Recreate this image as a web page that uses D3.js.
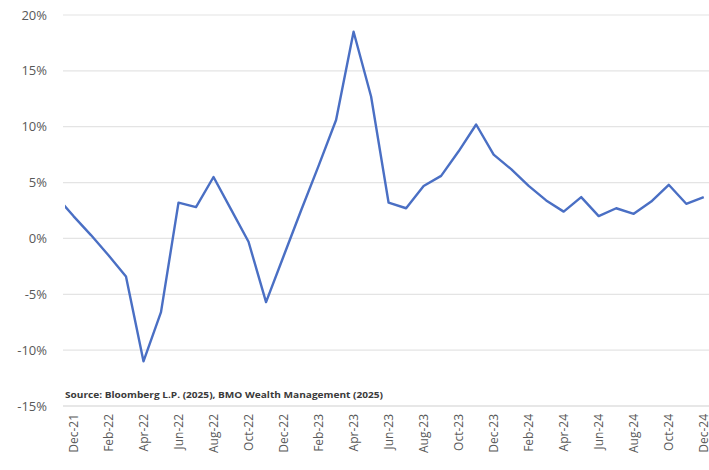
<!DOCTYPE html>
<html>
<head>
<meta charset="utf-8">
<script src="https://cdn.jsdelivr.net/npm/d3@7"></script>
<style>
body{margin:0;background:#fff;}
</style>
</head>
<body>
<script>
// monthly values, Nov-21 .. Dec-24 (Nov-21 only shows as the clipped start of the line)
var months=["Nov-21","Dec-21","Jan-22","Feb-22","Mar-22","Apr-22","May-22","Jun-22","Jul-22","Aug-22","Sep-22","Oct-22","Nov-22","Dec-22",
  "Jan-23","Feb-23","Mar-23","Apr-23","May-23","Jun-23","Jul-23","Aug-23","Sep-23","Oct-23","Nov-23","Dec-23",
  "Jan-24","Feb-24","Mar-24","Apr-24","May-24","Jun-24","Jul-24","Aug-24","Sep-24","Oct-24","Nov-24","Dec-24"];
var values=[3.8,2.0,0.3,-1.5,-3.4,-11.0,-6.6,3.2,2.8,5.5,2.6,-0.3,-5.7,-1.6,
  2.5,6.5,10.6,18.5,12.7,3.2,2.7,4.7,5.6,7.8,10.2,7.5,
  6.2,4.7,3.4,2.4,3.7,2.0,2.7,2.2,3.3,4.8,3.1,3.7];
var yTicks=[-15,-10,-5,0,5,10,15,20];
var xLabels=["Dec-21","Feb-22","Apr-22","Jun-22","Aug-22","Oct-22","Dec-22","Feb-23","Apr-23","Jun-23","Aug-23","Oct-23",
  "Dec-23","Feb-24","Apr-24","Jun-24","Aug-24","Oct-24","Dec-24"];
var source="Source: Bloomberg L.P. (2025), BMO Wealth Management (2025)";

var w=709,h=470;
var mLeft=64,mRight=709,mTop=15,mBottom=406;
var svg=d3.select('body').append('svg').attr('width',w).attr('height',h);

var x=d3.scaleLinear().domain([0.46,37.3]).range([mLeft,mRight]);
var y=d3.scaleLinear().domain([-15,20]).range([mBottom,mTop]);

// gridlines
svg.selectAll('line.grid').data(yTicks).enter().append('line')
  .attr('class','grid')
  .attr('x1',mLeft-1).attr('x2',mRight)
  .attr('y1',function(d){return y(d);}).attr('y2',function(d){return y(d);})
  .attr('stroke',function(d){return d==-15?'#cfcfcf':'#e4e4e4';})
  .attr('stroke-width',1.2);

svg.selectAll('text.ylab').data(yTicks).enter().append('text')
  .attr('class','ylab')
  .attr('x',47).attr('y',function(d){return y(d);}).attr('dy','0.35em')
  .attr('text-anchor','end')
  .style('font-family','Open Sans, sans-serif').style('font-size','13px').style('fill','#595959')
  .text(function(d){return d+'%';});

// x labels
svg.selectAll('text.xlab').data(xLabels).enter().append('text')
  .attr('class','xlab')
  .attr('transform',function(d){
    var xx=x(months.indexOf(d));
    return 'translate('+xx+',414) rotate(-90)';
  })
  .attr('dy','0.35em')
  .attr('text-anchor','end')
  .style('font-family','Open Sans, sans-serif').style('font-size','12px').style('fill','#595959')
  .text(function(d){return d;});

// line
svg.append('clipPath').attr('id','clip').append('rect')
  .attr('x',mLeft+1).attr('y',0).attr('width',mRight-mLeft).attr('height',h);

var line=d3.line()
  .x(function(d,i){return x(i);})
  .y(function(d){return y(d);});

svg.append('path').datum(values)
  .attr('clip-path','url(#clip)')
  .attr('d',line)
  .attr('fill','none')
  .attr('stroke','#4a6fc4')
  .attr('stroke-width',2.4)
  .attr('stroke-linejoin','round');

// source
svg.append('text')
  .attr('x',65).attr('y',398)
  .attr('textLength',318).attr('lengthAdjust','spacingAndGlyphs')
  .style('font-family','Open Sans, sans-serif').style('font-size','9.5px')
  .style('font-weight','bold').style('fill','#3a3a3a')
  .text(source);
</script>
</body>
</html>
